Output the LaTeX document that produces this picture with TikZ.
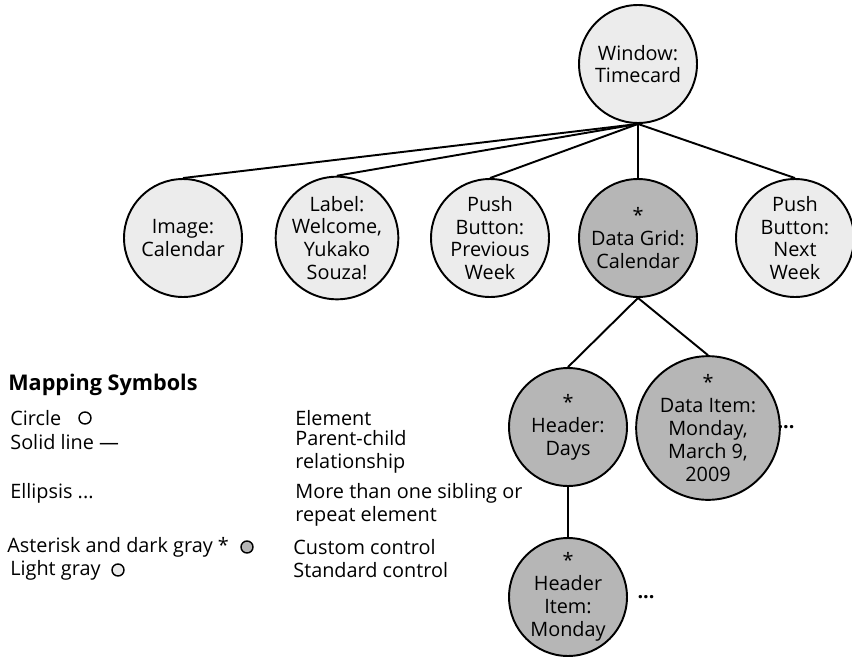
\documentclass[tikz,border=0pt]{standalone}
\usepackage{fontspec}
\setmainfont{Open Sans}
\usepackage{tikz}
\usepackage{xcolor}
\usetikzlibrary{positioning}
\definecolor{stdgray}{RGB}{236,236,236}
\definecolor{custgray}{RGB}{182,182,182}

\begin{document}
\begin{tikzpicture}[x=0.02cm, y=-0.02cm, font=\fontsize{11.3}{13}\selectfont, every node/.style={align=center},
  elem/.style={circle, draw, line width=1.1pt, minimum size=2.36cm, inner sep=0pt},
  std/.style={elem, fill=stdgray},
  cust/.style={elem, fill=custgray},
  link/.style={line width=1.1pt},
  legend/.style={anchor=west, align=left, inner sep=0pt},
  sym/.style={circle, draw, line width=0.8pt, minimum size=0.24cm, inner sep=0pt}]
\useasboundingbox (0,0) rectangle (852,656);
% tree
\node[std] (win) at (638,64) {Window:\\Timecard};
\node[std] (img) at (183,238) {Image:\\Calendar};
\node[std] (lbl) at (337,238) {Label:\\Welcome,\\Yukako\\Souza!};
\node[std] (prev) at (490,238) {Push\\Button:\\Previous\\Week};
\node[cust] (grid) at (638,238) {*\\Data Grid:\\Calendar};
\node[std] (next) at (795,238) {Push\\Button:\\Next\\Week};
\node[cust] (hdr) at (568,427) {*\\Header:\\Days};
\node[cust] (item) at (708,428) {*\\Data Item:\\Monday,\\March 9,\\2009};
\node[cust] (hdritem) at (568,597) {*\\Header\\Item:\\Monday};
\node (dots1) at (786,427) {\textbf{...}};
\node (dots2) at (646,597) {\textbf{...}};
\draw[link] (win.south) -- (img.north);
\draw[link] (win.south) -- (lbl.north);
\draw[link] (win.south) -- (prev.north);
\draw[link] (win.south) -- (grid.north);
\draw[link] (win.south) -- (next.north);
\draw[link] (grid.south) -- (hdr.north);
\draw[link] (grid.south) -- (item.north);
\draw[link] (hdr.south) -- (hdritem.north);
% legend
\node[legend, font=\fontsize{12.3}{14}\selectfont\bfseries] (title) at (8,385) {Mapping Symbols};
\node[legend] (circ) at (10,418) {Circle};
\node[sym] (circsym) at (85,418) {};
\node[legend] (line) at (10,442) {Solid line ---};
\node[legend] (ell) at (10,493) {Ellipsis ...};
\node[legend] (ast) at (7,547) {Asterisk and dark gray *};
\node[sym, fill=custgray] (astsym) at (247,547) {};
\node[legend] (light) at (10,570) {Light gray};
\node[sym, fill=stdgray] (lightsym) at (118,570) {};
\node[legend] (d1) at (295,418) {Element};
\node[legend] (d2) at (295,452) {Parent-child\\relationship};
\node[legend] (d3) at (295,505) {More than one sibling or\\repeat element};
\node[legend] (d4) at (293,547) {Custom control};
\node[legend] (d5) at (293,570) {Standard control};
\end{tikzpicture}
\end{document}
